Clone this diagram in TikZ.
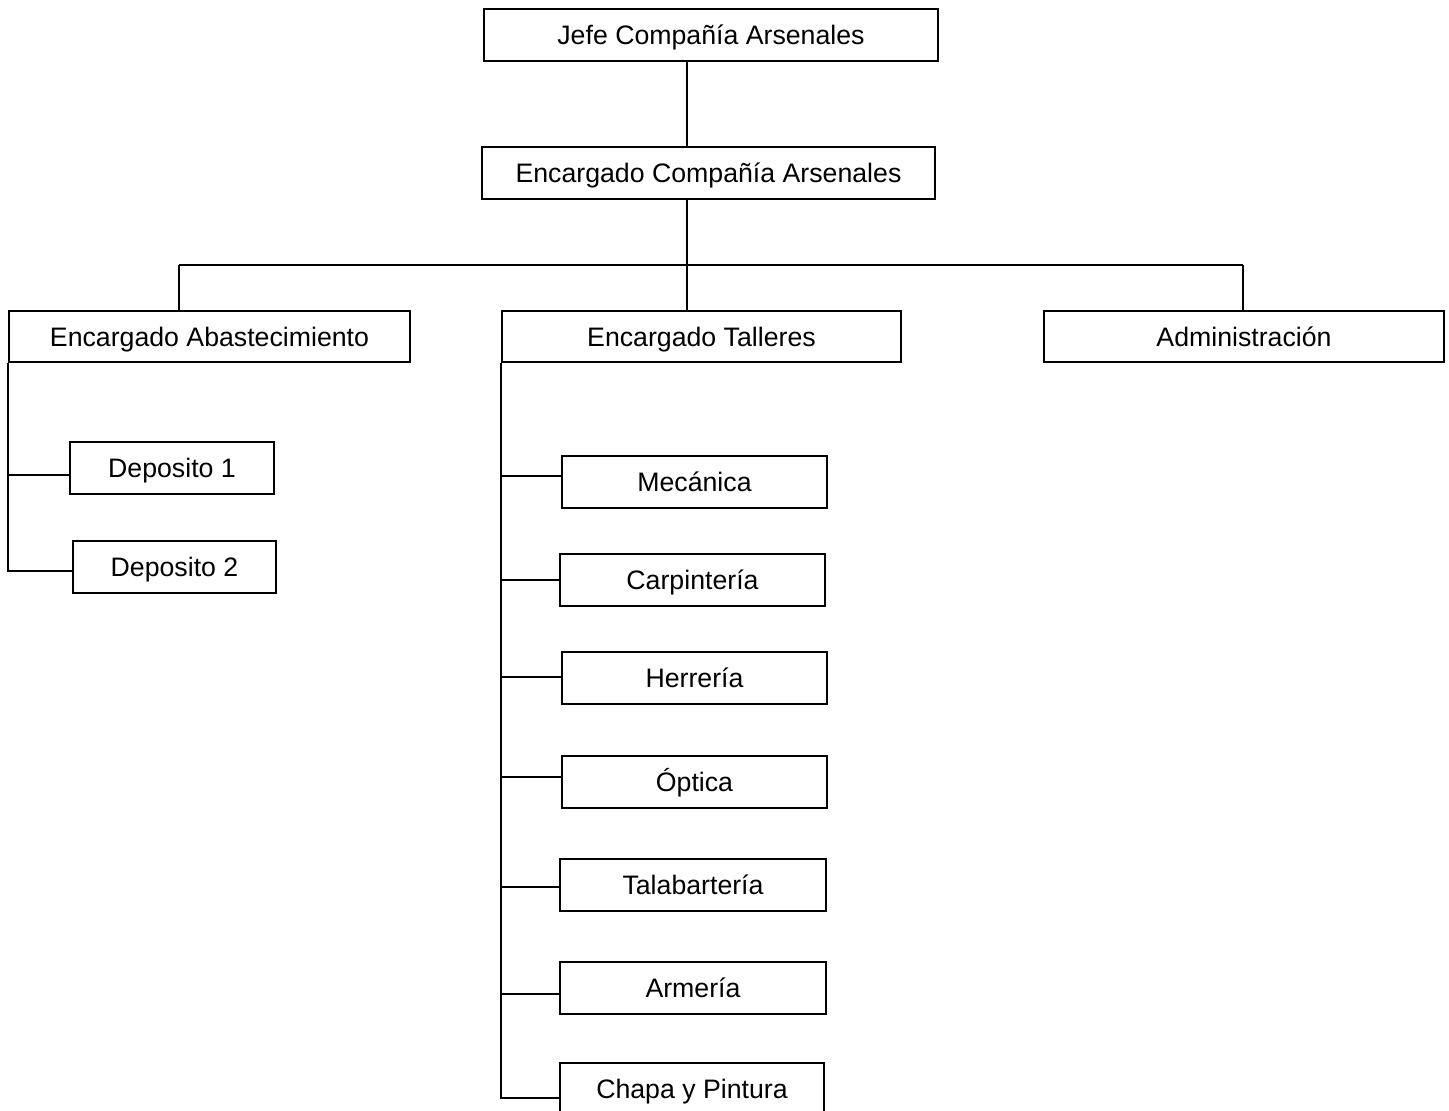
\documentclass[tikz,border=0pt]{standalone}
\usepackage{fontspec}
\setmainfont{Liberation Sans}
\begin{document}
\begin{tikzpicture}[x=1pt,y=1pt,
  box/.style={draw=black, line width=2pt, fill=white, inner sep=0pt,
    text height=19.1pt, text depth=0pt,
    font=\fontsize{26.7}{32}\selectfont},
  link/.style={draw=black, line width=2pt}]
\useasboundingbox (0,0) rectangle (1449,-1111);

% Command chain
\node[box, minimum width=454, minimum height=52] (jefe) at (711,-35) {Jefe Compañía Arsenales};
\node[box, minimum width=453, minimum height=52] (enc) at (708.5,-173) {Encargado Compañía Arsenales};

% Second level
\node[box, minimum width=401, minimum height=51] (abas) at (209.5,-336.5) {Encargado Abastecimiento};
\node[box, minimum width=399, minimum height=51] (tall) at (701.5,-336.5) {Encargado Talleres};
\node[box, minimum width=400, minimum height=51] (adm) at (1244,-336.5) {Administración};

% Depots
\node[box, minimum width=204, minimum height=52] (dep1) at (172,-468) {Deposito 1};
\node[box, minimum width=203, minimum height=52] (dep2) at (174.5,-567) {Deposito 2};

% Workshops
\node[box, minimum width=265, minimum height=52] (mec) at (694.5,-482) {Mecánica};
\node[box, minimum width=265, minimum height=52] (carp) at (692.5,-580) {Carpintería};
\node[box, minimum width=265, minimum height=52] (herr) at (694.5,-678) {Herrería};
\node[box, minimum width=265, minimum height=52] (opt) at (694.5,-782) {Óptica};
\node[box, minimum width=266, minimum height=52] (tala) at (693,-885) {Talabartería};
\node[box, minimum width=266, minimum height=52] (arm) at (693,-988) {Armería};
\node[box, minimum width=264, minimum height=52] (chapa) at (692,-1089) {Chapa y Pintura};

% Bus and stems
\coordinate (trunk) at (687,-265);
\coordinate (stemA) at (179,-265);
\coordinate (stemC) at (1243,-265);

\draw[link] (jefe.south -| trunk) -- (enc.north -| trunk);
\draw[link] (enc.south -| trunk) -- (tall.north -| trunk);
\draw[link] (stemA) -- (stemC);
\draw[link] (stemA) -- (abas.north -| stemA);
\draw[link] (stemC) -- (adm.north -| stemC);

% Depot spine, along the left side of its head box
\coordinate (spineA) at (abas.south west);
\draw[link] (spineA) -- ([yshift=-4pt]dep2.west -| spineA) -- ([yshift=-4pt]dep2.west);
\draw[link] ([yshift=-7pt]dep1.west -| spineA) -- ([yshift=-7pt]dep1.west);

% Workshop spine, along the left side of its head box
\coordinate (spineT) at (tall.south west);
\draw[link] (spineT) -- ([yshift=-9pt]chapa.west -| spineT) -- ([yshift=-9pt]chapa.west);
\draw[link] ([yshift=6pt]mec.west -| spineT) -- ([yshift=6pt]mec.west);
\draw[link] (carp.west -| spineT) -- (carp.west);
\draw[link] ([yshift=1pt]herr.west -| spineT) -- ([yshift=1pt]herr.west);
\draw[link] ([yshift=5pt]opt.west -| spineT) -- ([yshift=5pt]opt.west);
\draw[link] ([yshift=-2pt]tala.west -| spineT) -- ([yshift=-2pt]tala.west);
\draw[link] ([yshift=-6pt]arm.west -| spineT) -- ([yshift=-6pt]arm.west);
\end{tikzpicture}
\end{document}
